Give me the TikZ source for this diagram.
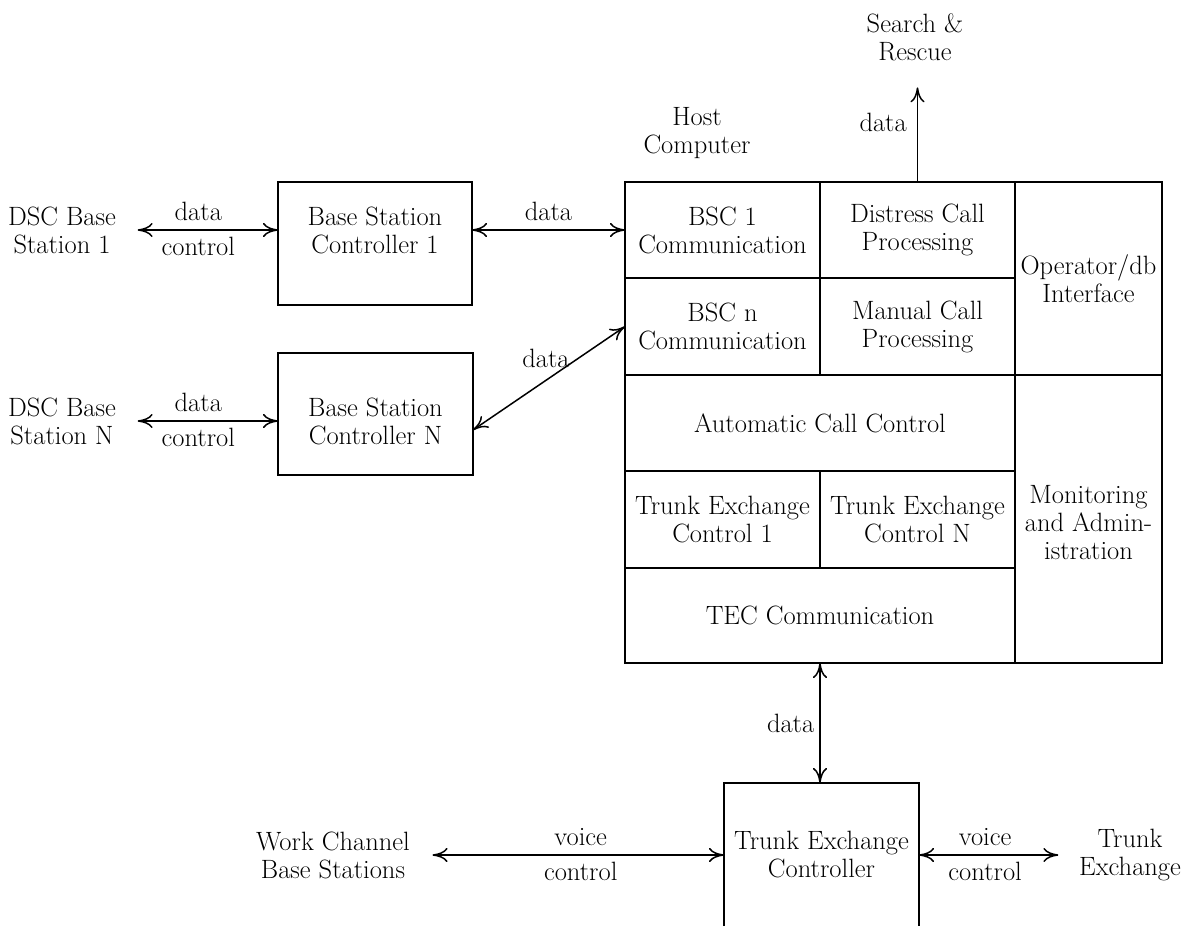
\documentclass[tikz,border=0pt]{standalone}
\usetikzlibrary{arrows.meta,calc}
\begin{document}
\begin{tikzpicture}[x=1pt,y=-1pt,line width=1.5pt,
  >={To[length=15pt,width=14pt]},
  every node/.style={font=\fontsize{26.5}{28}\selectfont, align=center, inner sep=2pt},
  cell/.style={draw, inner sep=0pt, outer sep=0pt},
  frame/.style={draw, inner sep=0pt, outer sep=0pt},
  conn/.style={<->}]
\useasboundingbox (0,0) rectangle (1185,926);

% host computer cells
\node[cell, minimum width=195pt, minimum height=96pt] (bsc1c) at (722.5,230) {BSC 1\\Communication};
\node[cell, minimum width=195pt, minimum height=97pt] (bscnc) at (722.5,326.5) {BSC n\\Communication};
\node[cell, minimum width=195pt, minimum height=96pt] (dcp) at (917.5,230) {Distress Call\\Processing};
\node[cell, minimum width=195pt, minimum height=97pt] (mcp) at (917.5,326.5) {Manual Call\\Processing};
\node[cell, minimum width=147pt, minimum height=193pt] (opdb) at (1088.5,278.5) {Operator/db\\Interface};
\node[cell, minimum width=390pt, minimum height=96pt] (acc) at (820,423) {Automatic Call Control};
\node[cell, minimum width=195pt, minimum height=97pt] (tec1) at (722.5,519.5) {Trunk Exchange\\Control 1};
\node[cell, minimum width=195pt, minimum height=97pt] (tecn) at (917.5,519.5) {Trunk Exchange\\Control N};
\node[cell, minimum width=390pt, minimum height=95pt] (teccomm) at (820,615.5) {TEC Communication};
\node[cell, minimum width=147pt, minimum height=288pt] (mon) at (1088.5,519) {};
\node (mont) at (1088.5,523) {Monitoring\\and Admin-\\istration};

\node (host) at (697,133) {Host\\Computer};
\node (sar) at (915,37) {Search \&\\Rescue};

% base station controllers
\node[frame, minimum width=194pt, minimum height=123pt] (bs1) at (375,243.5) {};
\node (bs1t) at (375,230) {Base Station\\Controller 1};
\node[frame, minimum width=195pt, minimum height=122pt] (bsn) at (375.5,414) {};
\node (bsnt) at (375.5,421) {Base Station\\Controller N};

\node (dsc1) at (62,230) {DSC Base\\Station 1};
\node (dscn) at (62,421) {DSC Base\\Station N};

% trunk exchange controller (open at bottom)
\node[inner sep=0pt, outer sep=0pt, minimum width=195pt, minimum height=143pt] (tecbox) at (821.5,854.5) {};
\draw (tecbox.south west) |- (tecbox.north east) -- (tecbox.south east);
\node (tect) at (821.5,855) {Trunk Exchange\\Controller};
\node (work) at (333,855) {Work Channel\\Base Stations};
\node (trunk) at (1130,855) {Trunk\\Exchange};

% connectors
\draw[conn, shorten <=19pt] (dsc1) -- (dsc1 -| bs1.west)
  node[midway, above=7pt] {data} node[midway, below=4pt] {control};
\draw[conn, shorten <=19pt] (dscn) -- (dscn -| bsn.west)
  node[midway, above=7pt] {data} node[midway, below=4pt] {control};
\draw[conn] (bs1.east |- bsc1c.west) -- (bsc1c.west)
  node[midway, above=7pt] {data};
\draw[conn] ([yshift=-16pt]bsn.east) -- (bscnc.west);
\node (diagdata) at (546,358) {data};
\draw[->, shorten >=24pt] (dcp.north) -- (dcp.north |- sar.south)
  node[midway, left=8pt] {data};
\draw[conn] (teccomm.south) -- (teccomm.south |- tecbox.north)
  node[midway, left=3pt] {data};
\draw[conn, shorten <=20pt] (work) -- (work -| tecbox.west)
  node[pos=0.54, above=7pt] {voice} node[pos=0.54, below=4pt] {control};
\draw[conn, shorten >=18pt] (tecbox.east |- trunk) -- (trunk)
  node[pos=0.42, above=7pt] {voice} node[pos=0.42, below=4pt] {control};
\end{tikzpicture}
\end{document}
